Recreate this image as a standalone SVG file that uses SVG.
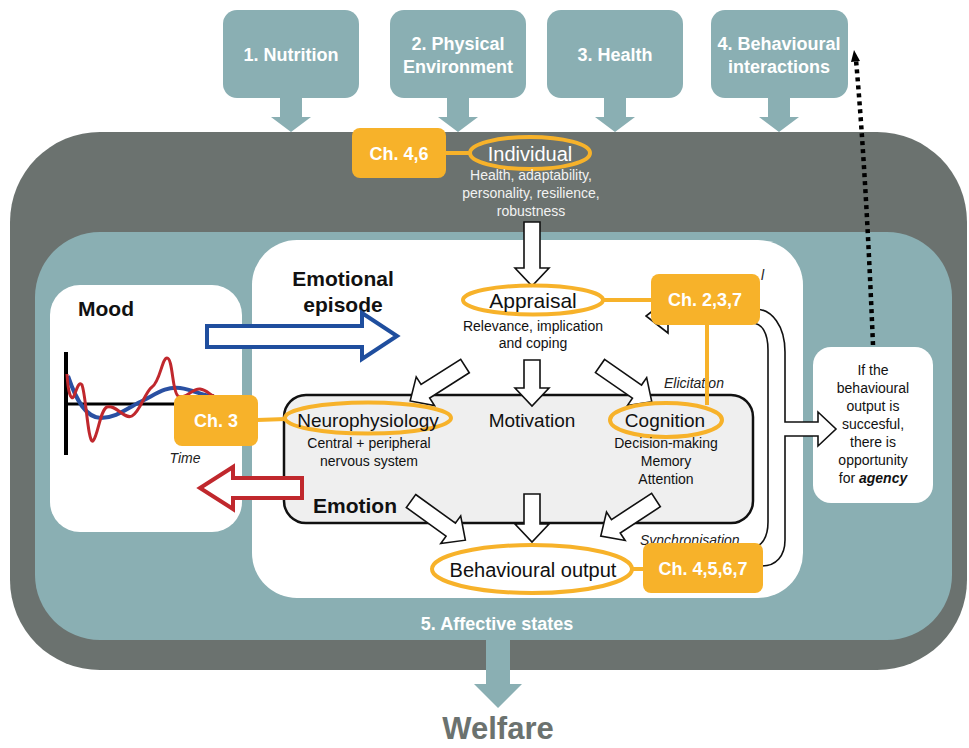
<svg xmlns="http://www.w3.org/2000/svg" width="969" height="748" viewBox="0 0 969 748">
<style>
text{font-family:"Liberation Sans",Arial,sans-serif;}
.teal{fill:#8AAFB3;}
.tb{fill:#fff;font-weight:bold;font-size:18px;text-anchor:middle;}
.ch{fill:#F7B22A;}
.cht{fill:#fff;font-weight:bold;font-size:18px;text-anchor:middle;}
.ell{fill:none;stroke:#F7B22A;stroke-width:4;}
.oline{stroke:#F7B22A;stroke-width:4;fill:none;}
.blk{fill:#fff;stroke:#111;stroke-width:1.6;}
.lbl{fill:#111;text-anchor:middle;}
.sub{fill:#111;font-size:14px;text-anchor:middle;}
.ital{fill:#222;font-size:14px;font-style:italic;}
.bold{fill:#111;font-weight:bold;font-size:21px;}
</style>

<g id="factors">
  <g id="nutrition">
    <rect class="teal" x="223" y="10" width="136" height="88" rx="14"/>
    <text class="tb" x="291" y="61">1. Nutrition</text>
  </g>
  <g id="physical-environment">
    <rect class="teal" x="390" y="10" width="136" height="88" rx="14"/>
    <text class="tb" x="458" y="50">2. Physical</text>
    <text class="tb" x="458" y="73">Environment</text>
  </g>
  <g id="health">
    <rect class="teal" x="547" y="10" width="136" height="88" rx="14"/>
    <text class="tb" x="615" y="61">3. Health</text>
  </g>
  <g id="behavioural-interactions">
    <rect class="teal" x="711" y="10" width="137" height="88" rx="14"/>
    <text class="tb" x="779" y="50">4. Behavioural</text>
    <text class="tb" x="779" y="73">interactions</text>
  </g>
</g>

<g id="welfare-frame">
  <rect x="10" y="132" width="957" height="538" rx="90" fill="#6B726F"/>
  <rect class="teal" x="35" y="232" width="917" height="408" rx="65"/>
  <text x="497" y="630" class="tb">5. Affective states</text>
  <text x="498" y="739" fill="#6B726F" font-weight="bold" font-size="31" text-anchor="middle">Welfare</text>
</g>

<g id="mood">
  <rect x="50" y="285" width="192" height="247" rx="30" fill="#fff"/>
  <text class="bold" x="78" y="316">Mood</text>
  <line x1="66" y1="352" x2="66" y2="455" stroke="#000" stroke-width="4"/>
  <line x1="64" y1="404" x2="212" y2="404" stroke="#000" stroke-width="3"/>
  <path d="M68,376 C76,400 86,418 101,418 C116,418 126,409 140,402 C155,395 165,386 180,388 C195,390 204,397 214,396" fill="none" stroke="#2A50A2" stroke-width="4"/>
  <path d="M67,374 C68,392 71,402 74,396 C77,388 79,381 82,385 C86,395 88,444 93,441 C98,436 100,410 107,407 C116,404 124,420 132,416 C140,412 145,392 152,387 C160,382 162,358 167,358 C173,358 172,392 178,396 C186,400 192,388 200,389 C207,390 210,395 214,396" fill="none" stroke="#C0282D" stroke-width="3"/>
  <text class="ital" x="185" y="463" text-anchor="middle">Time</text>
</g>

<g id="emotional-episode">
  <rect x="252" y="240" width="551" height="358" rx="45" fill="#fff"/>
  <text class="bold" x="343" y="286" text-anchor="middle">Emotional</text>
  <text class="bold" x="343" y="312" text-anchor="middle">episode</text>
  <text class="ital" x="761" y="280">l</text>
  <text class="ital" x="664" y="388">Elicitation</text>
  <text class="ital" x="640" y="545">Synchronisation</text>
</g>

<g id="emotion">
  <rect x="284" y="395" width="469" height="128" rx="22" fill="#EFEFEF" stroke="#111" stroke-width="2.5"/>
  <text class="bold" x="313" y="513">Emotion</text>
</g>

<g id="agency">
  <rect x="813" y="347" width="120" height="156" rx="18" fill="#fff"/>
  <text class="sub" x="873" y="375">If the</text>
  <text class="sub" x="873" y="393">behavioural</text>
  <text class="sub" x="873" y="411">output is</text>
  <text class="sub" x="873" y="429">succesful,</text>
  <text class="sub" x="873" y="447">there is</text>
  <text class="sub" x="873" y="465">opportunity</text>
  <text class="sub" x="873" y="483">for <tspan font-weight="bold" font-style="italic">agency</tspan></text>
</g>

<g id="connectors">
  <path class="teal" d="M280,97 H302 V117 H311 L291,132 L271,117 H280 Z"/>
  <path class="teal" d="M447,97 H469 V117 H478 L458,132 L438,117 H447 Z"/>
  <path class="teal" d="M604,97 H626 V117 H635 L615,132 L595,117 H604 Z"/>
  <path class="teal" d="M768,97 H790 V117 H799 L779,132 L759,117 H768 Z"/>
  <path class="teal" d="M486,638 H510 V684 H522 L498,708 L474,684 H486 Z"/>
  <path d="M207,326 H362 V313 L397,336 L362,359 V347 H207 Z" fill="#fff" stroke="#1F4E9E" stroke-width="4"/>
  <path d="M302,478 H233 V467 L200,488 L233,509 V498 H302 Z" fill="#fff" stroke="#C0282D" stroke-width="4"/>
  <path class="blk" transform="translate(532,222) rotate(90)" d="M0,-8 H46 V-17 L64,0 L46,17 V8 H0 Z"/>
  <path class="blk" transform="translate(465,366) rotate(147.5)" d="M0,-8 H47 V-17 L65,0 L47,17 V8 H0 Z"/>
  <path class="blk" transform="translate(532,360) rotate(90)" d="M0,-8 H28 V-17 L46,0 L28,17 V8 H0 Z"/>
  <path class="blk" transform="translate(600,366) rotate(34.7)" d="M0,-8 H45 V-17 L63,0 L45,17 V8 H0 Z"/>
  <path class="blk" transform="translate(411,501) rotate(35.8)" d="M0,-8 H49 V-17 L67,0 L49,17 V8 H0 Z"/>
  <path class="blk" transform="translate(532,494) rotate(90)" d="M0,-8 H30 V-17 L48,0 L30,17 V8 H0 Z"/>
  <path class="blk" transform="translate(656,500) rotate(146.8)" d="M0,-8 H48 V-17 L66,0 L48,17 V8 H0 Z"/>
  <path class="blk" d="M740,566 H762 C776,566 785,556 785,540 V436 H818 V446 L836,429 L818,412 V422 H785 V352 C785,326 772,309 755,309 H668 V299 L646,316 L668,333 V323 H752 C762,323 768,333 768,350 V522 C768,537 762,547 752,547 H740 Z"/>
  <path d="M873,345 C869,250 864,150 856,60" fill="none" stroke="#000" stroke-width="4.5" stroke-dasharray="4 4"/>
  <path d="M851,62 L854,50 L860,61 Z" fill="#000"/>
  <line class="oline" x1="446" y1="153" x2="470" y2="153"/>
  <line class="oline" x1="603" y1="300" x2="652" y2="300"/>
  <line class="oline" x1="707" y1="322" x2="707" y2="405"/>
  <line class="oline" x1="257" y1="420" x2="286" y2="419"/>
  <line class="oline" x1="632" y1="569" x2="645" y2="569"/>
</g>

<g id="individual">
  <rect class="ch" x="352" y="128" width="94" height="50" rx="8"/>
  <text class="cht" x="399" y="160">Ch. 4,6</text>
  <ellipse class="ell" cx="530" cy="153" rx="60" ry="16"/>
  <text x="530" y="161" fill="#fff" font-size="20" text-anchor="middle">Individual</text>
  <text x="531" y="180" fill="#f2f2f2" font-size="14" text-anchor="middle">Health, adaptability,</text>
  <text x="531" y="198" fill="#f2f2f2" font-size="14" text-anchor="middle">personality, resilience,</text>
  <text x="531" y="216" fill="#f2f2f2" font-size="14" text-anchor="middle">robustness</text>
</g>

<g id="appraisal">
  <ellipse class="ell" cx="533" cy="300" rx="70" ry="14.5"/>
  <text class="lbl" x="533" y="308" font-size="21">Appraisal</text>
  <text class="sub" x="533" y="331">Relevance, implication</text>
  <text class="sub" x="533" y="348">and coping</text>
  <rect class="ch" x="651" y="274" width="109" height="51" rx="8"/>
  <text class="cht" x="705" y="306">Ch. 2,3,7</text>
</g>

<g id="neurophysiology">
  <ellipse class="ell" cx="368" cy="418" rx="83" ry="15.5"/>
  <text class="lbl" x="368" y="427" font-size="19">Neurophysiology</text>
  <text class="sub" x="369" y="448">Central + peripheral</text>
  <text class="sub" x="369" y="466">nervous system</text>
  <rect class="ch" x="174" y="395" width="84" height="51" rx="8"/>
  <text class="cht" x="216" y="427">Ch. 3</text>
</g>

<g id="motivation">
  <text class="lbl" x="532" y="427" font-size="19">Motivation</text>
</g>

<g id="cognition">
  <ellipse class="ell" cx="666" cy="420" rx="56" ry="17"/>
  <text class="lbl" x="665" y="427" font-size="19">Cognition</text>
  <text class="sub" x="666" y="448">Decision-making</text>
  <text class="sub" x="666" y="466">Memory</text>
  <text class="sub" x="666" y="484">Attention</text>
</g>

<g id="behavioural-output">
  <ellipse class="ell" cx="532" cy="569" rx="100" ry="24"/>
  <text class="lbl" x="533" y="577" font-size="20">Behavioural output</text>
  <rect class="ch" x="643" y="543" width="120" height="50" rx="8"/>
  <text class="cht" x="703" y="575">Ch. 4,5,6,7</text>
</g>
</svg>
